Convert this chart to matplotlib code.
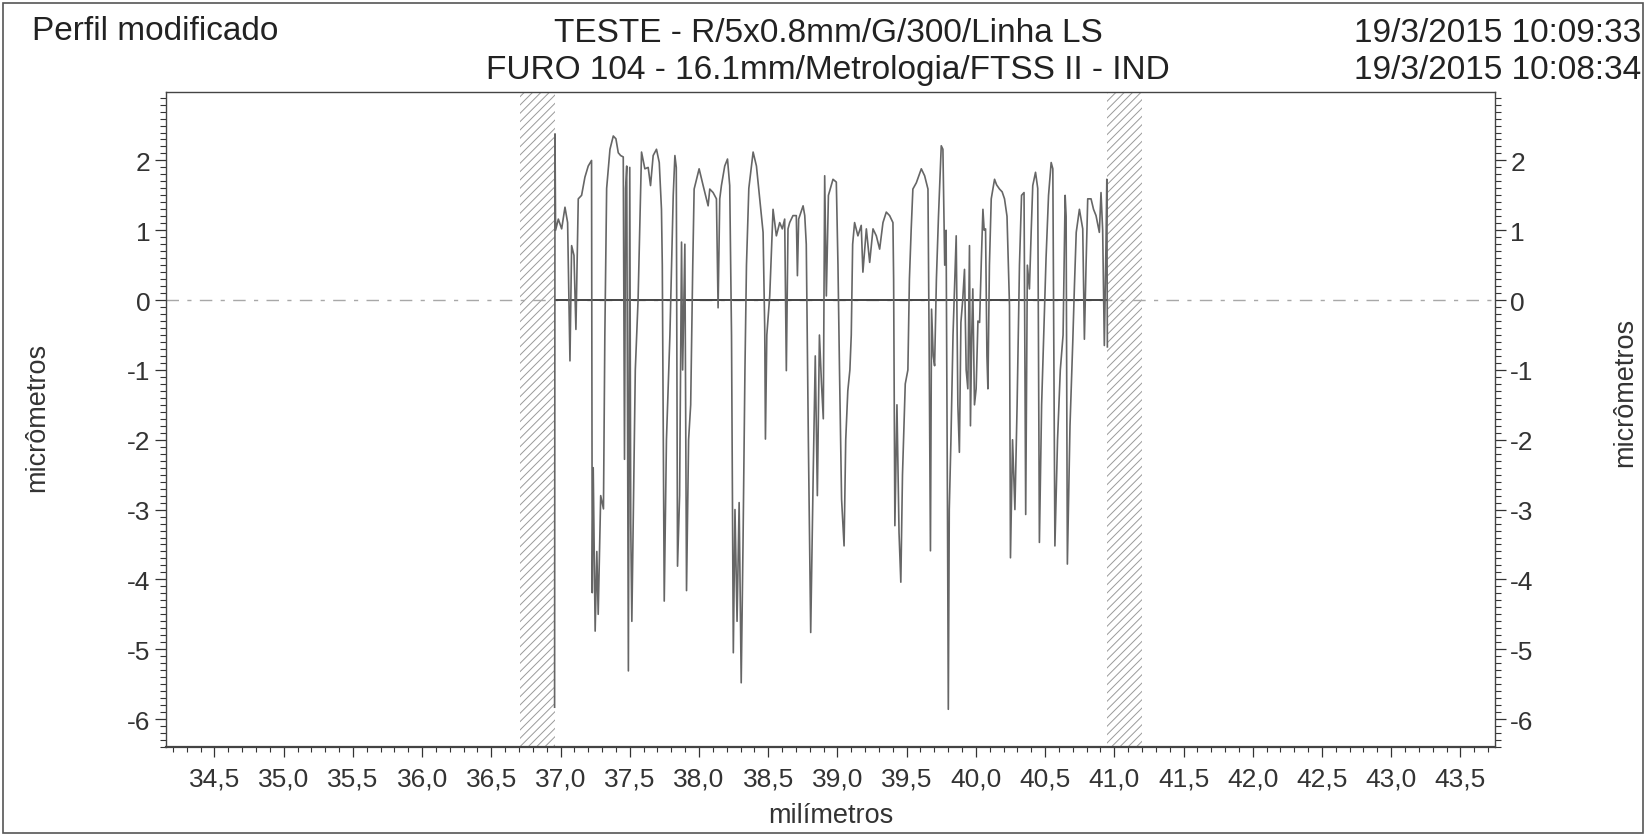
import matplotlib
matplotlib.use('Agg')
from matplotlib import pyplot as plt
from matplotlib.patches import Rectangle
from matplotlib.ticker import MultipleLocator, FuncFormatter

plt.rcParams['font.family'] = ['Liberation Sans', 'DejaVu Sans']
plt.rcParams['axes.unicode_minus'] = False
plt.rcParams['hatch.linewidth'] = 0.7

# header texts
title_left = 'Perfil modificado'
title_lines = ['TESTE - R/5x0.8mm/G/300/Linha LS',
               'FURO 104 - 16.1mm/Metrologia/FTSS II - IND']
dates = ['19/3/2015 10:09:33', '19/3/2015 10:08:34']

# axes ranges (mm, micrometres)
x_range = (34.15, 43.75)
y_range = (-6.4, 2.98)
eval_start, eval_end = 36.96, 40.95
excluded = [(36.71, 36.96), (40.95, 41.20)]

# profile vertices (mm, um)
profile_x = [
    36.957, 36.960, 36.964, 36.984, 37.008, 37.032, 37.051, 37.068, 37.080, 37.097,
    37.111, 37.128, 37.152, 37.176, 37.200, 37.224, 37.229, 37.236, 37.250, 37.262,
    37.272, 37.290, 37.310, 37.320, 37.333, 37.357, 37.381, 37.400, 37.417, 37.434,
    37.453, 37.462, 37.470, 37.478, 37.490, 37.500, 37.507, 37.515, 37.540, 37.560,
    37.585, 37.609, 37.633, 37.650, 37.669, 37.693, 37.713, 37.729, 37.735, 37.749,
    37.765, 37.790, 37.814, 37.826, 37.836, 37.845, 37.860, 37.874, 37.882, 37.898,
    37.910, 37.925, 37.940, 37.955, 37.965, 38.001, 38.030, 38.054, 38.066, 38.078,
    38.102, 38.126, 38.138, 38.150, 38.162, 38.186, 38.206, 38.222, 38.235, 38.248,
    38.260, 38.275, 38.290, 38.305, 38.318, 38.332, 38.343, 38.360, 38.391, 38.415,
    38.439, 38.463, 38.475, 38.480, 38.490, 38.511, 38.535, 38.559, 38.583, 38.602,
    38.619, 38.631, 38.643, 38.655, 38.679, 38.703, 38.711, 38.720, 38.752, 38.764,
    38.775, 38.790, 38.807, 38.825, 38.840, 38.855, 38.870, 38.885, 38.898, 38.908,
    38.920, 38.935, 38.968, 38.992, 39.004, 39.015, 39.030, 39.048, 39.060, 39.075,
    39.090, 39.100, 39.110, 39.124, 39.148, 39.172, 39.184, 39.209, 39.233, 39.257,
    39.281, 39.305, 39.329, 39.353, 39.377, 39.401, 39.406, 39.415, 39.430, 39.445,
    39.458, 39.470, 39.490, 39.509, 39.520, 39.533, 39.545, 39.570, 39.606, 39.630,
    39.654, 39.662, 39.672, 39.680, 39.692, 39.702, 39.715, 39.730, 39.750, 39.762,
    39.775, 39.785, 39.795, 39.801, 39.808, 39.820, 39.835, 39.848, 39.858, 39.870,
    39.881, 39.892, 39.905, 39.918, 39.930, 39.942, 39.954, 39.961, 39.970, 39.978,
    39.990, 40.002, 40.015, 40.027, 40.040, 40.051, 40.060, 40.070, 40.080, 40.087,
    40.098, 40.111, 40.135, 40.150, 40.171, 40.190, 40.207, 40.225, 40.243, 40.250,
    40.265, 40.282, 40.298, 40.315, 40.330, 40.348, 40.360, 40.372, 40.387, 40.400,
    40.411, 40.431, 40.447, 40.459, 40.475, 40.490, 40.507, 40.525, 40.544, 40.556,
    40.571, 40.590, 40.610, 40.630, 40.645, 40.652, 40.661, 40.680, 40.700, 40.712,
    40.725, 40.748, 40.772, 40.784, 40.796, 40.808, 40.832, 40.850, 40.868, 40.892,
    40.904, 40.916, 40.928, 40.940, 40.946, 40.950,
]
profile_y = [
    -5.83, 2.38, 1.00, 1.16, 1.02, 1.33, 1.11, -0.87, 0.78, 0.64,
    -0.42, 1.45, 1.50, 1.76, 1.92, 2.00, -4.19, -2.40, -4.74, -3.60,
    -4.50, -2.80, -2.99, -0.50, 1.60, 2.16, 2.35, 2.31, 2.11, 2.07,
    2.05, -2.28, 1.60, 1.92, -5.31, 1.90, -3.20, -4.60, -1.00, 0.00,
    2.12, 1.88, 1.90, 1.64, 2.07, 2.16, 1.97, 1.30, 0.50, -4.31,
    -2.00, -0.50, 1.50, 2.07, 1.90, -3.81, -2.80, 0.83, -1.00, 0.80,
    -4.16, -2.00, -1.50, 0.50, 1.59, 1.88, 1.64, 1.45, 1.35, 1.59,
    1.54, 1.45, -0.11, 1.45, 1.64, 1.92, 2.02, 1.64, -0.50, -5.05,
    -3.00, -4.60, -2.90, -5.48, -3.50, -1.00, 0.50, 1.60, 2.12, 1.92,
    1.45, 0.97, -0.42, -1.99, -0.50, 0.06, 1.30, 0.92, 1.11, 1.02,
    1.16, -1.01, 1.02, 1.11, 1.21, 1.21, 0.35, 1.16, 1.35, 1.21,
    0.80, -2.00, -4.76, -2.50, -0.80, -2.80, -0.50, -1.20, -1.70, 1.78,
    0.06, 1.50, 1.73, 1.69, 0.50, -1.00, -2.85, -3.52, -2.00, -1.30,
    -1.00, -0.50, 0.80, 1.11, 0.92, 1.07, 0.40, 1.02, 0.54, 1.02,
    0.92, 0.73, 1.11, 1.26, 1.21, 1.11, 0.30, -3.23, -1.50, -3.33,
    -4.04, -2.50, -1.20, -1.00, 0.30, 1.02, 1.59, 1.68, 1.88, 1.78,
    1.59, -0.50, -3.59, -0.13, -0.80, -0.94, 0.30, 1.20, 2.21, 2.16,
    0.50, 1.00, -3.00, -5.86, -3.00, -2.00, -0.50, 0.30, 0.92, -1.50,
    -2.18, -0.32, 0.00, 0.44, -1.00, -1.27, 0.78, -1.80, -0.50, 0.16,
    -1.50, -1.27, -0.30, -0.32, 0.60, 1.30, 1.00, 1.02, -0.80, -1.27,
    0.50, 1.45, 1.73, 1.65, 1.59, 1.55, 1.45, 1.20, -0.08, -3.69,
    -2.00, -3.00, -1.50, 0.50, 1.50, 1.54, -3.07, 0.50, 0.16, 1.00,
    1.64, 1.83, 1.60, -3.47, -1.50, -0.50, 0.60, 1.50, 1.97, 1.88,
    -3.52, -2.00, -1.00, -0.50, 1.50, 1.20, -3.78, -1.80, -0.60, 0.20,
    0.97, 1.30, 1.02, -0.56, 0.50, 1.45, 1.45, 1.30, 1.21, 0.97,
    1.54, 1.00, -0.65, 0.80, 1.73, -0.67,
]

W, H = 1646, 837
fig = plt.figure(figsize=(W / 100, H / 100), dpi=100)
ax = fig.add_axes([166 / W, 1 - 748 / H, (1495 - 166) / W, (748 - 93) / H])

for x0, x1 in excluded:
    ax.axvspan(x0, x1, facecolor='none', edgecolor='#9a9a9a', hatch='////', lw=0, zorder=1)
ax.axhline(0, color='#a8a8a8', lw=1.0, ls=(0, (9, 6, 3, 6)), zorder=1)
ax.hlines(0, eval_start, eval_end, color='#444444', lw=1.4, zorder=2)
ax.plot(profile_x, profile_y, color='#666666', lw=1.2, zorder=3)

ax.set_xlim(*x_range)
ax.set_ylim(*y_range)

ax.xaxis.set_major_locator(MultipleLocator(0.5))
ax.xaxis.set_minor_locator(MultipleLocator(0.1))
ax.yaxis.set_major_locator(MultipleLocator(1))
ax.yaxis.set_minor_locator(MultipleLocator(0.1))
ax.xaxis.set_major_formatter(FuncFormatter(lambda v, p: f'{v:.1f}'.replace('.', ',')))
ax.yaxis.set_major_formatter(FuncFormatter(lambda v, p: f'{v:.0f}'))

ax.tick_params(axis='both', which='both', direction='out', colors='#333333', labelsize=19)
ax.tick_params(axis='x', which='major', length=7, width=0.9, pad=7)
ax.tick_params(axis='x', which='minor', length=3.5, width=0.8)
ax.tick_params(axis='y', which='major', length=8, width=0.9, pad=3,
               left=True, right=True, labelleft=True, labelright=True)
ax.tick_params(axis='y', which='minor', length=4, width=0.8, left=True, right=True)
for s in ax.spines.values():
    s.set_color('#444444')
    s.set_linewidth(1.0)
ax.spines['bottom'].set_linewidth(1.6)

# axis titles
fig.text(831 / W, 1 - 816 / H, 'milímetros', ha='center', va='center', fontsize=19.5, color='#333333')
fig.text(37 / W, 1 - 417 / H, 'micrômetros', ha='center', va='center', rotation=90,
         fontsize=19.5, color='#333333')
fig.text(1625 / W, 1 - 392 / H, 'micrômetros', ha='center', va='center', rotation=90,
         fontsize=19.5, color='#333333')

# header
fig.text(32 / W, 1 - 40 / H, title_left, ha='left', va='baseline', fontsize=24, color='#222222')
for i, (t, d) in enumerate(zip(title_lines, dates)):
    yb = 1 - (42 + 37 * i) / H
    fig.text(828 / W, yb, t, ha='center', va='baseline', fontsize=24, color='#222222')
    fig.text(1641 / W, yb, d, ha='right', va='baseline', fontsize=24, color='#222222')

# page frame
fig.patches.append(Rectangle((3 / W, 3 / H), 1640 / W, 830 / H, transform=fig.transFigure,
                             fill=False, ec='#555555', lw=1.2))

fig.savefig('out.png', dpi=100)
